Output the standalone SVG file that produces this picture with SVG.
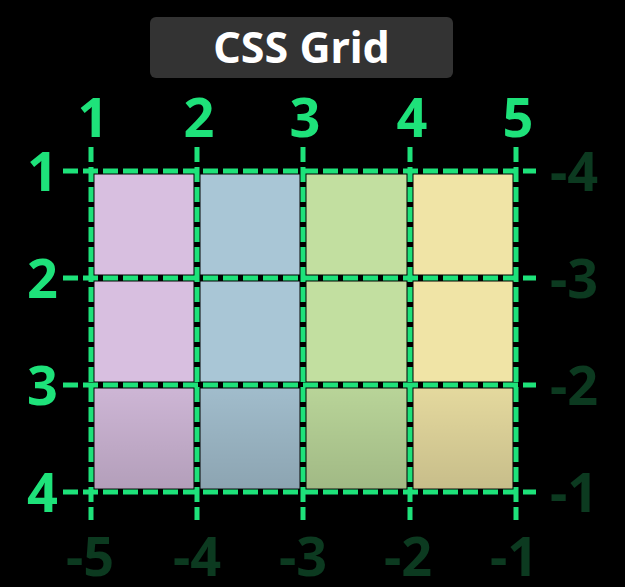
<svg xmlns="http://www.w3.org/2000/svg" width="625" height="587" viewBox="0 0 625 587">
<defs>
<linearGradient id="shade" x1="0" y1="0" x2="0" y2="1">
<stop offset="0" stop-color="#000" stop-opacity="0.05"/>
<stop offset="1" stop-color="#000" stop-opacity="0.17"/>
</linearGradient>
<style>
.lbl{font-family:"Noto Sans","DejaVu Sans",sans-serif;font-weight:bold;font-size:54px}
.pos{fill:#1ee27a}
.neg{fill:#0c3a20}
.gl{stroke:#1ee27a;stroke-width:5;stroke-dasharray:15 5;fill:none}
.pu{fill:#d8bfe0}.bl{fill:#a9c6d6}.gr{fill:#c2dfa0}.ye{fill:#f0e4a6}
</style>
</defs>
<rect width="625" height="587" fill="#000"/>
<g id="title">
<rect x="150" y="17" width="303" height="61" rx="6" fill="#333"/>
<text x="301.5" y="63" text-anchor="middle" font-family="'Noto Sans','DejaVu Sans',sans-serif" font-weight="bold" font-size="43" fill="#fff">CSS Grid</text>
</g>
<g id="cells">
<rect id="c11" class="pu" x="94.5" y="174.5" width="99" height="100"/>
<rect id="c12" class="bl" x="200.5" y="174.5" width="99" height="100"/>
<rect id="c13" class="gr" x="306.5" y="174.5" width="100" height="100"/>
<rect id="c14" class="ye" x="413.5" y="174.5" width="99" height="100"/>
<rect id="c21" class="pu" x="94.5" y="281.5" width="99" height="100"/>
<rect id="c22" class="bl" x="200.5" y="281.5" width="99" height="100"/>
<rect id="c23" class="gr" x="306.5" y="281.5" width="100" height="100"/>
<rect id="c24" class="ye" x="413.5" y="281.5" width="99" height="100"/>
<rect id="c31" class="pu" x="94.5" y="388.5" width="99" height="100"/>
<rect id="c32" class="bl" x="200.5" y="388.5" width="99" height="100"/>
<rect id="c33" class="gr" x="306.5" y="388.5" width="100" height="100"/>
<rect id="c34" class="ye" x="413.5" y="388.5" width="99" height="100"/>
<rect x="94" y="388.5" width="419" height="100" fill="url(#shade)"/>
</g>
<g id="connectors">
<line class="gl" x1="91" y1="147" x2="91" y2="520"/>
<line class="gl" x1="197" y1="147" x2="197" y2="520"/>
<line class="gl" x1="303" y1="147" x2="303" y2="520"/>
<line class="gl" x1="410" y1="147" x2="410" y2="520"/>
<line class="gl" x1="516" y1="147" x2="516" y2="520"/>
<line class="gl" x1="63" y1="171" x2="536" y2="171"/>
<line class="gl" x1="63" y1="278" x2="536" y2="278"/>
<line class="gl" x1="63" y1="385" x2="536" y2="385"/>
<line class="gl" x1="63" y1="492" x2="536" y2="492"/>
</g>
<g id="top-labels" class="lbl pos" text-anchor="middle">
<text x="93" y="137">1</text>
<text x="199" y="137">2</text>
<text x="305" y="137">3</text>
<text x="412" y="137">4</text>
<text x="518" y="137">5</text>
</g>
<g id="left-labels" class="lbl pos" text-anchor="end">
<text x="58" y="190.5">1</text>
<text x="58" y="297.5">2</text>
<text x="58" y="404.5">3</text>
<text x="58" y="511.5">4</text>
</g>
<g id="right-labels" class="lbl neg" text-anchor="start">
<text x="550" y="190.5">-4</text>
<text x="550" y="297.5">-3</text>
<text x="550" y="404.5">-2</text>
<text x="550" y="511.5">-1</text>
</g>
<g id="bottom-labels" class="lbl neg" text-anchor="middle">
<text x="90" y="576">-5</text>
<text x="197" y="576">-4</text>
<text x="303" y="576">-3</text>
<text x="408" y="576">-2</text>
<text x="514" y="576">-1</text>
</g>
</svg>
